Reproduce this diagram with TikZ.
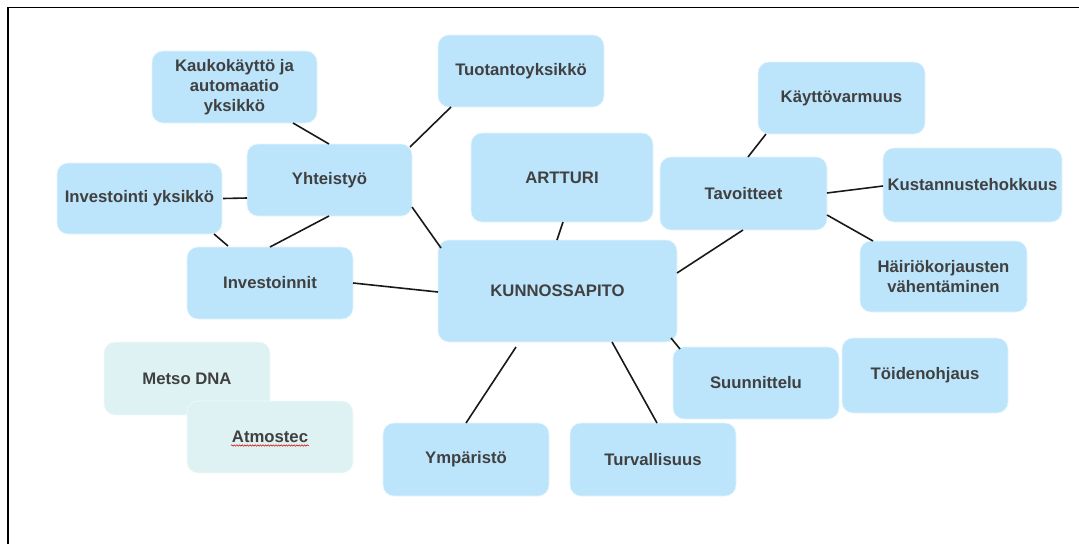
\documentclass[tikz,border=0pt]{standalone}
\usepackage{fontspec}
\setmainfont{Liberation Sans}
\usetikzlibrary{decorations.pathmorphing}
\definecolor{boxblue}{RGB}{188,229,252}
\definecolor{boxpale}{RGB}{223,242,243}
\definecolor{txt}{RGB}{64,64,64}
\definecolor{lin}{RGB}{25,25,25}
\tikzset{
  box/.style 2 args={rectangle, rounded corners=11pt, fill=boxblue, draw=white!60!boxblue, line width=0.6pt,
    minimum width=#1pt, minimum height=#2pt, inner sep=2pt, align=center, text=txt,
    font=\fontsize{16.7}{19.8}\selectfont\bfseries},
  palebox/.style 2 args={box={#1}{#2}, fill=boxpale, draw=white!60!boxpale},
  link/.style={draw=lin, line width=1.6pt},
}
\begin{document}
\begin{tikzpicture}[x=1pt, y=-1pt]
\useasboundingbox (0,0) rectangle (1079,544);
\draw[line width=1.8pt, black] (8,544) -- (8,7.5) -- (1079,7.5);

\node[box={165}{72}] (kauk) at (234.5,87) {Kaukokäyttö ja\\automaatio\\yksikkö};
\node[box={165}{72}] (yht) at (329.5,180) {Yhteistyö};
\node[box={165}{71}] (invy) at (139.5,198.5) {Investointi yksikkö};
\node[box={166}{72}] (inv) at (270,283) {Investoinnit};
\node[palebox={166}{73}] (metso) at (187,378.5) {Metso DNA};
\node[palebox={166}{72}] (atmo) at (270,437) {Atmostec};
\node[box={166}{72}] (tuot) at (521,71) {Tuotantoyksikkö};
\node[box={182}{89}] (art) at (562,177.5) {ARTTURI};
\node[box={239}{102}] (kp) at (557.5,291) {KUNNOSSAPITO};
\node[box={167}{73}] (tav) at (743.5,193.5) {Tavoitteet};
\node[box={167}{72}] (kayt) at (841.5,98) {Käyttövarmuus};
\node[box={179}{74}] (kust) at (972.5,185) {Kustannustehokkuus};
\node[box={167}{71}] (hair) at (943.5,276.5) {Häiriökorjausten\\vähentäminen};
\node[box={166}{72}] (suun) at (756,383) {Suunnittelu};
\node[box={166}{75}] (toid) at (925,375.5) {Töidenohjaus};
\node[box={166}{73}] (ymp) at (466,459.5) {Ympäristö};
\node[box={166}{73}] (turv) at (653,459.5) {Turvallisuus};

\draw[red!85!black, line width=0.5pt, decorate, decoration={snake, amplitude=0.7pt, segment length=2.6pt}]
  ([shift={(-39,8.5)}]atmo.center) -- ([shift={(39,8.5)}]atmo.center);

\draw[link] ([shift={(58.5,36)}]kauk.center) -- ([shift={(-0.5,-36)}]yht.center);
\draw[link] ([shift={(83.5,0)}]invy.center) -- ([shift={(-82.5,18)}]yht.center);
\draw[link] ([shift={(74.5,35.5)}]invy.center) -- ([shift={(-42,-37)}]inv.center);
\draw[link] ([shift={(-0.5,36)}]yht.center) -- ([shift={(0,-36)}]inv.center);
\draw[link] ([shift={(80.5,-33)}]yht.center) -- ([shift={(-70,36)}]tuot.center);
\draw[link] ([shift={(82.5,27)}]yht.center) -- ([shift={(-116.5,-43)}]kp.center);
\draw[link] ([shift={(1,44.5)}]art.center) -- ([shift={(-0.5,-51)}]kp.center);
\draw[link] ([shift={(83,0)}]inv.center) -- ([shift={(-119.5,1)}]kp.center);
\draw[link] ([shift={(119.5,-18)}]kp.center) -- ([shift={(-0.5,36.5)}]tav.center);
\draw[link] ([shift={(4.5,-36.5)}]tav.center) -- ([shift={(-75.5,36)}]kayt.center);
\draw[link] ([shift={(83.5,-0.5)}]tav.center) -- ([shift={(-89.5,1)}]kust.center);
\draw[link] ([shift={(83.5,21.5)}]tav.center) -- ([shift={(-70.5,-35.5)}]hair.center);
\draw[link] ([shift={(113.5,47)}]kp.center) -- ([shift={(-76,-34)}]suun.center);
\draw[link] ([shift={(54.5,51)}]kp.center) -- ([shift={(4,-36.5)}]turv.center);
\draw[link] ([shift={(-41.5,56)}]kp.center) -- ([shift={(0,-36.5)}]ymp.center);
\end{tikzpicture}
\end{document}
